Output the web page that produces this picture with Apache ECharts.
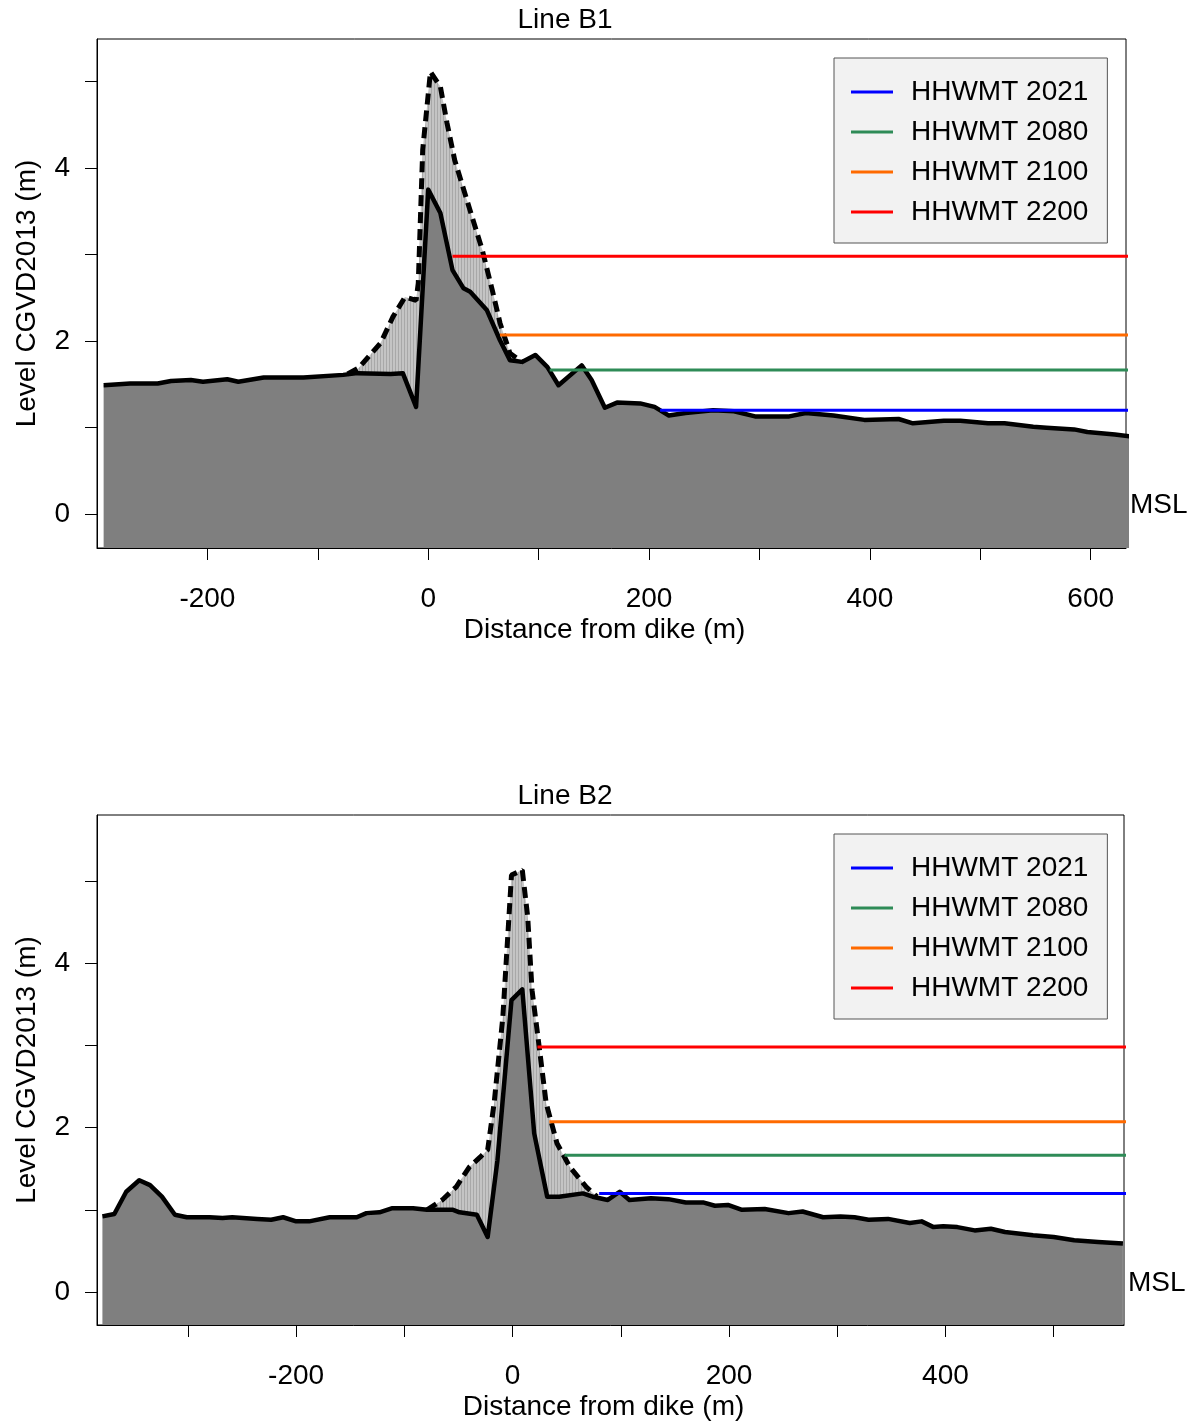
<!DOCTYPE html>
<html>
<head>
<meta charset="utf-8">
<script src="https://cdn.jsdelivr.net/npm/echarts@6/dist/echarts.min.js"></script>
<style>
html,body{margin:0;padding:0;background:#fff;}
#chart{width:1197px;height:1424px;}
</style>
</head>
<body>
<div id="chart"></div>
<script>
// ---------- DATA ----------
const chartTitles = ['Line B1', 'Line B2'];
const levelNames = ['HHWMT 2021', 'HHWMT 2080', 'HHWMT 2100', 'HHWMT 2200'];
const levelValues = [1.20, 1.665, 2.07, 2.98];

// Line B1: ground profile (distance m, level m)
const b1Ground = [[-294,1.49],[-270,1.51],[-245,1.51],[-233,1.54],[-215,1.55],[-204,1.53],[-182,1.56],[-172,1.53],[-149,1.58],[-113,1.58],[-77,1.61],[-64,1.63],[-34,1.62],[-23,1.63],[-11,1.24],[0,3.75],[11,3.48],[22,2.82],[32,2.61],[38,2.57],[53,2.36],[65,2.01],[74,1.78],[85,1.76],[97,1.84],[108,1.70],[118,1.49],[139,1.72],[148,1.55],[160,1.23],[171,1.29],[192,1.28],[205,1.24],[218,1.14],[233,1.17],[258,1.20],[277,1.19],[296,1.13],[327,1.13],[342,1.17],[367,1.14],[395,1.09],[426,1.10],[439,1.05],[467,1.08],[482,1.08],[507,1.05],[522,1.05],[548,1.01],[560,1.00],[585,0.98],[597,0.95],[622,0.92],[635,0.90]];
// Line B1: dashed upper profile
const b1Upper = [[-73,1.62],[-63,1.69],[-43,1.98],[-32,2.28],[-21,2.51],[-11,2.47],[-9,2.67],[-5,4.21],[2,5.11],[11,4.94],[17,4.52],[24,4.09],[35,3.63],[49,3.05],[58,2.59],[65,2.21],[74,1.86],[85,1.76]];
// Line B1: start distance of each HHWMT line
const b1LevelStart = [210, 110, 65, 22];

// Line B2: ground profile
const b2Ground = [[-379,0.92],[-368,0.95],[-357,1.22],[-345,1.36],[-335,1.30],[-324,1.16],[-312,0.94],[-301,0.91],[-280,0.91],[-268,0.90],[-259,0.91],[-236,0.89],[-223,0.88],[-212,0.91],[-200,0.86],[-188,0.86],[-169,0.91],[-144,0.91],[-135,0.96],[-123,0.97],[-111,1.02],[-92,1.02],[-79,1.00],[-67,1.00],[-55,1.00],[-49,0.97],[-33,0.94],[-23,0.67],[-14,1.60],[-1,3.55],[9,3.68],[20,1.93],[32,1.16],[43,1.16],[65,1.20],[74,1.16],[88,1.12],[99,1.22],[108,1.12],[128,1.14],[144,1.13],[160,1.09],[176,1.09],[187,1.05],[199,1.06],[212,1.00],[233,1.01],[255,0.96],[268,0.98],[287,0.91],[303,0.92],[316,0.91],[329,0.88],[347,0.89],[367,0.84],[378,0.86],[389,0.79],[398,0.80],[411,0.79],[427,0.75],[442,0.77],[455,0.73],[481,0.69],[500,0.67],[519,0.63],[541,0.61],[564,0.59]];
// Line B2: dashed upper profile
const b2Upper = [[-79,1.00],[-65,1.12],[-52,1.28],[-40,1.52],[-30,1.64],[-23,1.73],[-17,2.30],[-9,3.34],[-1,5.07],[9,5.13],[14,4.56],[18,3.67],[25,2.94],[31,2.30],[41,1.81],[53,1.52],[68,1.28],[78,1.16]];
const b2LevelStart = [80, 48, 34, 23];

// Axis ranges and ticks
const b1XRange = [-300, 632];
const b1YRange = [-0.39, 5.49];
const b2XRange = [-384, 565];
const b2YRange = [-0.40, 5.80];
const b1XTicks = [-200,-100,0,100,200,300,400,500,600];
const b1XLabels = [-200,0,200,400,600];
const b2XTicks = [-300,-200,-100,0,100,200,300,400,500];
const b2XLabels = [-200,0,200,400];
const yTicks = [0,1,2,3,4,5];
const yLabels = [0,2,4];

// ---------- STYLE ----------
const FONT = 'Liberation Sans, Arial, sans-serif';
const FS = 28;
const levelColors = ['#0000ff', '#2e8b57', '#ff6a00', '#ff0000'];

function stripePattern() {
  const c = document.createElement('canvas');
  c.width = 3; c.height = 4;
  const ctx = c.getContext('2d');
  ctx.fillStyle = '#c4c4c4'; ctx.fillRect(0,0,3,4);
  ctx.fillStyle = '#a8a8a8'; ctx.fillRect(2,0,1,4);
  return {image: c, repeat: 'repeat'};
}
const lightFill = stripePattern();

const grids = [
  {left: 97, top: 39, width: 1029, height: 509},
  {left: 97, top: 815, width: 1027, height: 510}
];

function xAxisCfg(idx, range, ticks, labels) {
  return {
    type: 'value', gridIndex: idx, min: range[0], max: range[1],
    name: 'Distance from dike (m)', nameLocation: 'middle', nameGap: 68,
    nameTextStyle: {fontFamily: FONT, fontSize: FS, color: '#000', padding: [0, 14, 0, 0]},
    axisLine: {show: true, onZero: false, lineStyle: {color: '#000', width: 1}},
    axisTick: {show: true, inside: false, length: 12, customValues: ticks, lineStyle: {color: '#000'}},
    axisLabel: {customValues: labels, fontFamily: FONT, fontSize: FS, color: '#000', margin: 37},
    splitLine: {show: false}
  };
}
function yAxisCfg(idx, range) {
  return {
    type: 'value', gridIndex: idx, min: range[0], max: range[1],
    name: 'Level CGVD2013 (m)', nameLocation: 'middle', nameGap: 56,
    nameTextStyle: {fontFamily: FONT, fontSize: FS, color: '#000'},
    axisLine: {show: true, onZero: false, lineStyle: {color: '#000', width: 1}},
    axisTick: {show: true, inside: false, length: 12, customValues: yTicks, lineStyle: {color: '#000'}},
    axisLabel: {customValues: yLabels, fontFamily: FONT, fontSize: FS, color: '#000', margin: 27},
    splitLine: {show: false}
  };
}

function profileSeries(idx, ground, upper, levelStart, xMax) {
  const s = [];
  s.push({
    type: 'line', xAxisIndex: idx, yAxisIndex: idx, data: upper, symbol: 'none',
    lineStyle: {width: 0, opacity: 0}, areaStyle: {color: lightFill, opacity: 1, origin: 'start'},
    z: 1, silent: true
  });
  s.push({
    type: 'line', xAxisIndex: idx, yAxisIndex: idx, data: ground, symbol: 'none',
    lineStyle: {color: '#000', width: 4.5, join: 'round'},
    areaStyle: {color: '#7f7f7f', opacity: 1, origin: 'start'},
    z: 2, silent: true
  });
  s.push({
    type: 'line', xAxisIndex: idx, yAxisIndex: idx, data: upper, symbol: 'none',
    lineStyle: {color: '#000', width: 5, type: [11, 6], cap: 'butt'},
    z: 3, silent: true
  });
  levelNames.forEach((nm, i) => {
    s.push({
      type: 'line', name: nm, xAxisIndex: idx, yAxisIndex: idx, symbol: 'none',
      data: [[levelStart[i], levelValues[i]], [xMax + 10, levelValues[i]]],
      lineStyle: {color: levelColors[i], width: 3}, itemStyle: {color: levelColors[i]},
      z: 4, silent: true
    });
  });
  return s;
}

function legendCfg(top) {
  return {
    orient: 'vertical', left: 834, top: top,
    data: levelNames, icon: 'rect', itemWidth: 42, itemHeight: 3, itemGap: 12,
    padding: [20, 19, 17, 17],
    backgroundColor: '#f2f2f2', borderColor: '#555', borderWidth: 1, borderRadius: 0,
    selectedMode: false,
    textStyle: {fontFamily: FONT, fontSize: FS, color: '#000', lineHeight: 28, padding: [0, 0, 0, 13]}
  };
}

const chart = echarts.init(document.getElementById('chart'), null, {renderer: 'canvas'});
const option = {
  animation: false,
  backgroundColor: '#fff',
  grid: grids.map(g => Object.assign({show: true, borderColor: '#000', borderWidth: 1, backgroundColor: 'transparent', containLabel: false}, g)),
  xAxis: [xAxisCfg(0, b1XRange, b1XTicks, b1XLabels), xAxisCfg(1, b2XRange, b2XTicks, b2XLabels)],
  yAxis: [yAxisCfg(0, b1YRange), yAxisCfg(1, b2YRange)],
  legend: [legendCfg(58), legendCfg(834)],
  series: [].concat(
    profileSeries(0, b1Ground, b1Upper, b1LevelStart, b1XRange[1]),
    profileSeries(1, b2Ground, b2Upper, b2LevelStart, b2XRange[1])
  )
};
chart.setOption(option);

// titles and MSL labels placed relative to the axes
const gfx = [];
[0, 1].forEach(i => {
  const g = grids[i];
  gfx.push({type: 'text', x: 565, y: g.top - 19, style: {text: chartTitles[i], font: FS + 'px ' + FONT, fill: '#000', align: 'center', verticalAlign: 'middle'}});
  const xr = i === 0 ? b1XRange : b2XRange;
  const p = chart.convertToPixel({gridIndex: i}, [xr[1], 0]);
  gfx.push({type: 'text', x: p[0] + 4, y: p[1] - 9, style: {text: 'MSL', font: FS + 'px ' + FONT, fill: '#000', align: 'left', verticalAlign: 'middle'}});
});
chart.setOption({graphic: gfx});
</script>
</body>
</html>
